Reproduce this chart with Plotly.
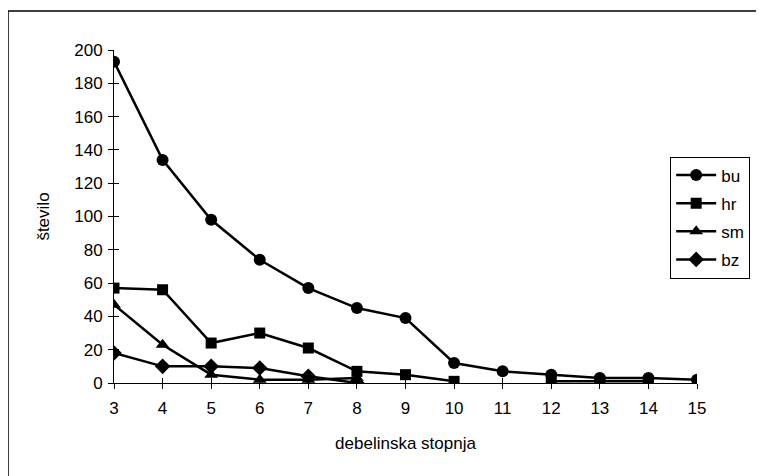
import plotly.graph_objects as go

categories = [3, 4, 5, 6, 7, 8, 9, 10, 11, 12, 13, 14, 15]
bu = [193, 134, 98, 74, 57, 45, 39, 12, 7, 5, 3, 3, 2]
hr = [57, 56, 24, 30, 21, 7, 5, 1, None, 1, 1, 1, None]
sm = [47, 23, 5, 2, 2, 3, None, None, None, None, None, None, None]
bz = [18, 10, 10, 9, 4, 0, None, None, None, None, None, None, None]
y_ticks = [0, 20, 40, 60, 80, 100, 120, 140, 160, 180, 200]

FONT = "Liberation Sans, Arial, sans-serif"
FS = 17

fig = go.Figure()
series = [("bu", bu, "circle", 12), ("hr", hr, "square", 11),
          ("sm", sm, "triangle-up", 12), ("bz", bz, "diamond", 12)]
for name, vals, sym, sz in series:
    fig.add_trace(go.Scatter(
        x=categories, y=vals, name=name, legendgroup=name,
        mode="lines+markers",
        line=dict(color="black", width=2.5),
        marker=dict(symbol=sym, size=sz, color="black"),
        connectgaps=False,
    ))

# dummy trace to create overlay axes for crossing ticks
fig.add_trace(go.Scatter(x=categories, y=bu, xaxis="x2", yaxis="y2",
                         mode="lines", line=dict(width=0), opacity=0,
                         showlegend=False, hoverinfo="skip"))

axis_common = dict(showgrid=False, zeroline=False, color="black")
fig.update_layout(
    width=764, height=476,
    margin=dict(l=106, r=75, t=42, b=101),
    paper_bgcolor="white", plot_bgcolor="white",
    font=dict(family=FONT, size=FS, color="black"),
    showlegend=True,
    legend=dict(x=0.954, y=0.68, xanchor="left", yanchor="top",
                bordercolor="black", borderwidth=1, bgcolor="white",
                font=dict(size=FS), tracegroupgap=3, itemwidth=40),
    xaxis=dict(range=[3, 15], tickmode="array", tickvals=categories,
               ticks="outside", ticklen=5, tickwidth=1, tickcolor="black",
               showline=True, linecolor="black", linewidth=1,
               ticklabelstandoff=5,
               title=dict(text="debelinska stopnja", standoff=19,
                          font=dict(size=FS)),
               **axis_common),
    yaxis=dict(range=[0, 200], tickmode="array", tickvals=y_ticks,
               ticks="outside", ticklen=5, tickwidth=1, tickcolor="black",
               showline=True, linecolor="black", linewidth=1,
               ticklabelstandoff=2,
               title=dict(text="število", standoff=20, font=dict(size=FS)),
               **axis_common),
    xaxis2=dict(range=[3, 15], overlaying="x", tickmode="array",
                tickvals=categories, ticks="inside", ticklen=5,
                tickcolor="black", showticklabels=False, showline=False,
                **axis_common),
    yaxis2=dict(range=[0, 200], overlaying="y", tickmode="array",
                tickvals=y_ticks, ticks="inside", ticklen=5,
                tickcolor="black", showticklabels=False, showline=False,
                **axis_common),
    shapes=[dict(type="rect", xref="paper", yref="paper",
                 x0=(8 - 114) / 583, x1=1.3, y0=-0.5, y1=(383 - 11) / 333,
                 line=dict(color="black", width=1.5), layer="below")],
)

fig.write_html("out.html")
